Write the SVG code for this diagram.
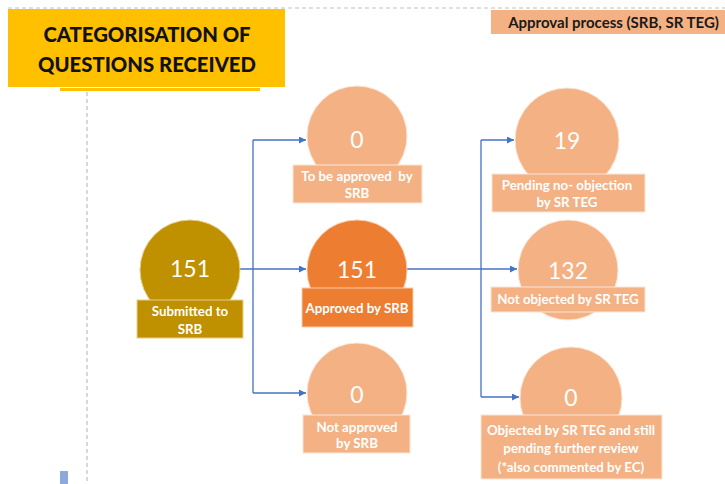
<svg xmlns="http://www.w3.org/2000/svg" width="725" height="484" viewBox="0 0 725 484">
<defs>
<marker id="arr" viewBox="0 0 10 10" refX="10" refY="5" markerWidth="7" markerHeight="7" markerUnits="userSpaceOnUse" orient="auto"><path d="M0,0 L10,5 L0,10 z" fill="#4472C4"/></marker>
<style>
.dash{stroke:#BFBFBF;stroke-width:1.2;stroke-dasharray:4 3;fill:none}
.conn{stroke:#4472C4;stroke-width:1.3;fill:none}
.lt{fill:#F4B183;stroke:#FBE5D6;stroke-width:1}
.num{font-family:Lato,"Liberation Sans",sans-serif;font-size:23px;fill:#fff;text-anchor:middle;dominant-baseline:central}
.lbl{font-family:Lato,"Liberation Sans",sans-serif;font-size:13.3px;font-weight:bold;fill:#fff;text-anchor:middle;dominant-baseline:central}
.ttl{font-family:Lato,"Liberation Sans",sans-serif;font-size:20.3px;font-weight:900;fill:#111;text-anchor:middle}
</style>
</defs>
<rect width="725" height="484" fill="#fff"/>
<line class="dash" x1="8" y1="8" x2="725" y2="8"/>
<line class="dash" x1="87" y1="92" x2="87" y2="484"/>
<g id="title">
<rect x="8" y="9" width="277" height="78" fill="#FFC000"/>
<rect x="60" y="88" width="200" height="3" fill="#FFC000"/>
<text class="ttl" x="147" y="42">CATEGORISATION OF</text>
<text class="ttl" x="147" y="72">QUESTIONS RECEIVED</text>
</g>
<g id="header">
<rect x="491" y="10" width="234" height="24" fill="#F4B183"/>
<text x="719" y="22" font-family="Lato,'Liberation Sans',sans-serif" font-size="15" font-weight="bold" fill="#1a1a1a" text-anchor="end" dominant-baseline="central">Approval process (SRB, SR TEG)</text>
</g>
<rect x="60" y="471" width="8" height="13" fill="#8EA9DB"/>
<g id="connectors">
<path class="conn" d="M240,269 H306" marker-end="url(#arr)"/>
<path class="conn" d="M253,140 H306" marker-end="url(#arr)"/>
<path class="conn" d="M253,393 H306" marker-end="url(#arr)"/>
<path class="conn" d="M253,140 V393"/>
<path class="conn" d="M407,269 H517" marker-end="url(#arr)"/>
<path class="conn" d="M481,140 H514" marker-end="url(#arr)"/>
<path class="conn" d="M481,397 H519" marker-end="url(#arr)"/>
<path class="conn" d="M481,140 V397"/>
</g>
<g id="submitted">
<circle cx="190" cy="270" r="50" fill="#BF9000" stroke="#E6D08A" stroke-width="1"/>
<rect x="137" y="300" width="106" height="38" fill="#BF9000" stroke="#E6D08A" stroke-width="1"/>
<text class="num" x="190" y="268">151</text>
<text class="lbl" x="190" y="311">Submitted to</text>
<text class="lbl" x="190" y="329">SRB</text>
</g>
<g id="to-be-approved">
<circle class="lt" cx="357" cy="136" r="50"/>
<rect class="lt" x="293" y="165" width="129" height="38"/>
<text class="num" x="357" y="139">0</text>
<text class="lbl" x="357" y="176" xml:space="preserve">To be approved  by</text>
<text class="lbl" x="357" y="193">SRB</text>
</g>
<g id="approved">
<circle cx="357" cy="270" r="50" fill="#ED7D31" stroke="#F8CBAD" stroke-width="1"/>
<rect x="302" y="288" width="111" height="39" fill="#ED7D31" stroke="#F8CBAD" stroke-width="1"/>
<text class="num" x="357" y="269">151</text>
<text class="lbl" x="357" y="308">Approved by SRB</text>
</g>
<g id="not-approved">
<circle class="lt" cx="357" cy="393" r="50"/>
<rect class="lt" x="303" y="415" width="107" height="38"/>
<text class="num" x="357" y="394">0</text>
<text class="lbl" x="357" y="427">Not approved</text>
<text class="lbl" x="357" y="443">by SRB</text>
</g>
<g id="pending">
<circle class="lt" cx="567" cy="140" r="52"/>
<rect class="lt" x="492" y="174" width="153" height="38"/>
<text class="num" x="567" y="140">19</text>
<text class="lbl" x="567" y="185">Pending no- objection</text>
<text class="lbl" x="567" y="202">by SR TEG</text>
</g>
<g id="not-objected">
<circle class="lt" cx="568" cy="270" r="50"/>
<rect class="lt" x="491" y="287" width="154" height="25"/>
<text class="num" x="568" y="270">132</text>
<text class="lbl" x="568" y="299">Not objected by SR TEG</text>
</g>
<g id="objected">
<circle class="lt" cx="571" cy="398" r="51"/>
<rect class="lt" x="481" y="415" width="181" height="64"/>
<text class="num" x="571" y="397">0</text>
<text class="lbl" x="571" y="430">Objected by SR TEG and still</text>
<text class="lbl" x="571" y="448">pending further review</text>
<text class="lbl" x="571" y="467">(*also commented by EC)</text>
</g>
</svg>
